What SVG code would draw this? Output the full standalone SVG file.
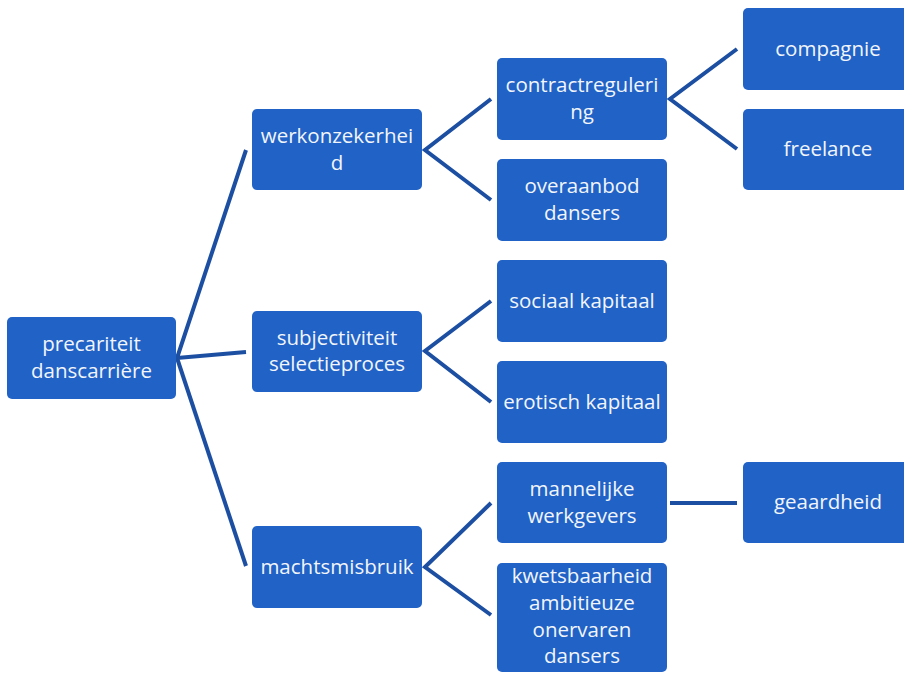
<svg xmlns="http://www.w3.org/2000/svg" width="904" height="673" viewBox="0 0 904 673">
<style>
.box{fill:#2062c6;}
.t{font-family:"Open Sans","Liberation Sans",sans-serif;font-size:20.5px;fill:#f2f5fb;text-anchor:middle;}
.c{stroke:#1c4fa2;stroke-width:4;fill:none;stroke-linecap:butt;stroke-linejoin:miter;}
</style>
<rect width="904" height="673" fill="#ffffff"/>
<g id="connectors">
<polyline class="c" points="246,150 177,358 246,352"/>
<line class="c" x1="177" y1="358" x2="246" y2="566"/>
<polyline class="c" points="491,99 425,150 491,200"/>
<polyline class="c" points="491,301 425,351 491,402"/>
<polyline class="c" points="491,503 425,567 491,615"/>
<polyline class="c" points="737,49 670,99 737,149"/>
<line class="c" x1="670" y1="503" x2="737" y2="503"/>
</g>
<g id="n-precariteit">
<rect class="box" x="7" y="317" width="169" height="82" rx="5"/>
<text class="t" x="91.5" y="351">precariteit</text>
<text class="t" x="91.5" y="377.5">danscarrière</text>
</g>
<g id="n-werkonzekerheid">
<rect class="box" x="252" y="109" width="170" height="81" rx="5"/>
<text class="t" x="337" y="143">werkonzekerhei</text>
<text class="t" x="337" y="170">d</text>
</g>
<g id="n-subjectiviteit">
<rect class="box" x="252" y="311" width="170" height="81" rx="5"/>
<text class="t" x="337" y="345">subjectiviteit</text>
<text class="t" x="337" y="371">selectieproces</text>
</g>
<g id="n-machtsmisbruik">
<rect class="box" x="252" y="526" width="170" height="82" rx="5"/>
<text class="t" x="337" y="574">machtsmisbruik</text>
</g>
<g id="n-contractregulering">
<rect class="box" x="497" y="58" width="170" height="82" rx="5"/>
<text class="t" x="582" y="92">contractreguleri</text>
<text class="t" x="582" y="119">ng</text>
</g>
<g id="n-overaanbod">
<rect class="box" x="497" y="159" width="170" height="82" rx="5"/>
<text class="t" x="582" y="193">overaanbod</text>
<text class="t" x="582" y="220">dansers</text>
</g>
<g id="n-sociaal">
<rect class="box" x="497" y="260" width="170" height="82" rx="5"/>
<text class="t" x="582" y="308">sociaal kapitaal</text>
</g>
<g id="n-erotisch">
<rect class="box" x="497" y="361" width="170" height="82" rx="5"/>
<text class="t" x="582" y="409">erotisch kapitaal</text>
</g>
<g id="n-mannelijke">
<rect class="box" x="497" y="462" width="170" height="81" rx="5"/>
<text class="t" x="582" y="496">mannelijke</text>
<text class="t" x="582" y="523">werkgevers</text>
</g>
<g id="n-kwetsbaarheid">
<rect class="box" x="497" y="563" width="170" height="109" rx="5"/>
<text class="t" x="582" y="583">kwetsbaarheid</text>
<text class="t" x="582" y="610">ambitieuze</text>
<text class="t" x="582" y="637">onervaren</text>
<text class="t" x="582" y="663">dansers</text>
</g>
<g id="n-compagnie">
<rect class="box" x="743" y="8" width="170" height="82" rx="5"/>
<text class="t" x="828" y="56">compagnie</text>
</g>
<g id="n-freelance">
<rect class="box" x="743" y="109" width="170" height="81" rx="5"/>
<text class="t" x="828" y="156">freelance</text>
</g>
<g id="n-geaardheid">
<rect class="box" x="743" y="462" width="170" height="81" rx="5"/>
<text class="t" x="828" y="509">geaardheid</text>
</g>
</svg>
